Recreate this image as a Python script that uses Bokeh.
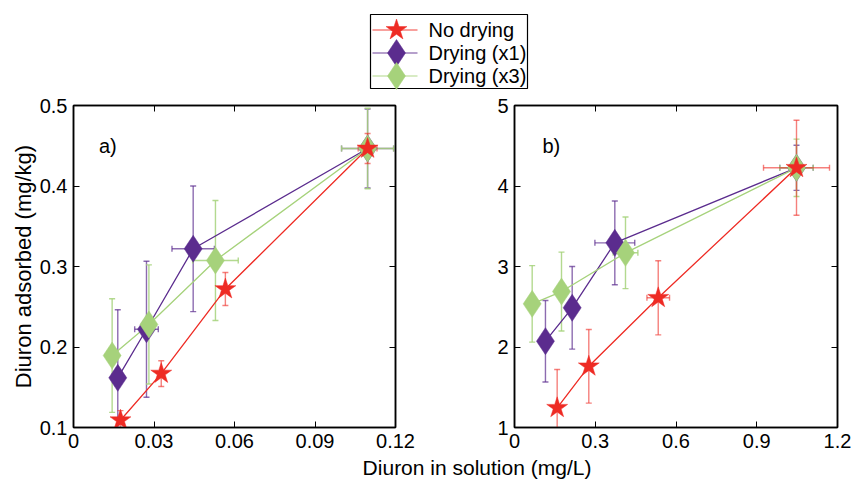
from bokeh.plotting import figure
from bokeh.models import Range1d, FixedTicker, LinearAxis, Whisker, TeeHead, ColumnDataSource, Label
from bokeh.layouts import column, row
from bokeh.embed import file_html
from bokeh.resources import INLINE
from bokeh.core.properties import value

# ---------------- data ----------------
series_names = ["No drying", "Drying (x1)", "Drying (x3)"]
series_colors = ["#ee2b24", "#5b2c8e", "#a6d27b"]
series_markers = ["star", "diamond", "diamond"]

# panel a)  (x: Diuron in solution mg/L, y: Diuron adsorbed mg/kg)
a_nd_x = [0.0175, 0.0327, 0.0566, 0.1096]
a_nd_y = [0.109, 0.167, 0.272, 0.4466]
a_nd_ey = [0.012, 0.016, 0.0205, 0.0186]
a_nd_ex = [0.0, 0.0, 0.0, 0.0035]

a_d1_x = [0.0165, 0.0272, 0.0446, 0.1096]
a_d1_y = [0.1617, 0.222, 0.322, 0.4466]
a_d1_ey = [0.0845, 0.0845, 0.078, 0.049]
a_d1_ex = [0.0, 0.0044, 0.0079, 0.0097]

a_d3_x = [0.0144, 0.0281, 0.0529, 0.1096]
a_d3_y = [0.1894, 0.228, 0.3075, 0.4466]
a_d3_ey = [0.0706, 0.074, 0.0745, 0.05]
a_d3_ex = [0.0, 0.0, 0.0085, 0.0097]

# panel b)
b_nd_x = [0.1585, 0.276, 0.534, 1.0477]
b_nd_y = [1.245, 1.76, 2.611, 4.226]
b_nd_ey = [0.475, 0.457, 0.46, 0.59]
b_nd_ex = [0.0, 0.0, 0.042, 0.1226]

b_d1_x = [0.115, 0.2143, 0.3727, 1.0477]
b_d1_y = [2.072, 2.487, 3.294, 4.226]
b_d1_ey = [0.506, 0.513, 0.52, 0.28]
b_d1_ex = [0.0, 0.0, 0.074, 0.062]

b_d3_x = [0.0657, 0.1746, 0.4124, 1.0477]
b_d3_y = [2.536, 2.689, 3.17, 4.226]
b_d3_ey = [0.475, 0.49, 0.445, 0.356]
b_d3_ex = [0.0, 0.0, 0.046, 0.062]

a_xticks = [0, 0.03, 0.06, 0.09, 0.12]
a_xtick_labels = ["0", "0.03", "0.06", "0.09", "0.12"]
a_yticks = [0.1, 0.2, 0.3, 0.4, 0.5]
a_ytick_labels = ["0.1", "0.2", "0.3", "0.4", "0.5"]
b_xticks = [0, 0.3, 0.6, 0.9, 1.2]
b_xtick_labels = ["0", "0.3", "0.6", "0.9", "1.2"]
b_yticks = [1, 2, 3, 4, 5]
b_ytick_labels = ["1", "2", "3", "4", "5"]

x_label = "Diuron in solution (mg/L)"
y_label = "Diuron adsorbed (mg/kg)"

# ---------------- style ----------------
FONT = "Liberation Sans"
TICK_FS = "20px"
LABEL_FS = "22px"
MARKER_SIZES = {"star": 22, "diamond": 27}
ERR_ALPHA = [0.6, 0.7, 0.85]
TOTAL_W = 851
TOTAL_H = 479
TH = 96            # legend strip height
TOP_B = 9
FRAME_H = 322
BOT_B = 28
BH = TOTAL_H - TH - TOP_B - FRAME_H - BOT_B   # x-label strip height


def style_axis(ax, ticks, labels, show, standoff):
    ax.ticker = FixedTicker(ticks=ticks)
    ax.minor_tick_line_color = None
    ax.major_tick_in = 6
    ax.major_tick_out = 0
    ax.major_tick_line_color = "black"
    ax.major_tick_line_width = 1
    ax.axis_line_color = "black"
    ax.axis_line_width = 1.5
    if show:
        ax.major_label_overrides = {t: l for t, l in zip(ticks, labels)}
        ax.major_label_text_font = FONT
        ax.major_label_text_color = "black"
        ax.major_label_text_font_size = TICK_FS
        ax.major_label_standoff = standoff
    else:
        ax.major_label_text_color = None
        ax.major_label_text_font_size = "1px"
        ax.major_label_standoff = 0


def make_panel(series, xr, yr, xticks, xlabels, yticks, ylabels, tag, tag_xy,
               bl, br, ylab, fw):
    p = figure(frame_width=fw, frame_height=FRAME_H, title=None,
               x_range=Range1d(*xr), y_range=Range1d(*yr),
               output_backend="svg", toolbar_location=None,
               min_border_left=bl, min_border_right=br,
               min_border_top=TOP_B, min_border_bottom=BOT_B)
    p.grid.visible = False
    p.outline_line_color = "black"
    p.outline_line_width = 1.5
    p.background_fill_color = "white"
    p.border_fill_color = "white"
    style_axis(p.xaxis[0], xticks, xlabels, True, 6)
    style_axis(p.yaxis[0], yticks, ylabels, True, 6)
    top = LinearAxis()
    right = LinearAxis()
    style_axis(top, xticks, xlabels, False, 0)
    style_axis(right, yticks, ylabels, False, 0)
    p.add_layout(top, "above")
    p.add_layout(right, "right")
    if ylab:
        p.yaxis[0].axis_label = ylab
        p.yaxis[0].axis_label_text_font = FONT
        p.yaxis[0].axis_label_text_font_size = LABEL_FS
        p.yaxis[0].axis_label_text_font_style = "normal"
        p.yaxis[0].axis_label_text_color = "black"
        p.yaxis[0].axis_label_standoff = 1

    order = [1, 2, 0]
    for i in order:
        xs, ys, eys, exs = series[i]
        p.line(xs, ys, line_color=series_colors[i], line_width=1.3)
    for i in order:
        xs, ys, eys, exs = series[i]
        c = series_colors[i]
        a = ERR_ALPHA[i]
        vsrc = ColumnDataSource(dict(base=xs, upper=[y + e for y, e in zip(ys, eys)],
                                     lower=[y - e for y, e in zip(ys, eys)]))
        p.add_layout(Whisker(source=vsrc, base="base", upper="upper", lower="lower",
                             dimension="height", line_color=c, line_alpha=a, line_width=1.4,
                             upper_head=TeeHead(size=6, line_color=c, line_alpha=a, line_width=1.4),
                             lower_head=TeeHead(size=6, line_color=c, line_alpha=a, line_width=1.4)))
        idx = [k for k, e in enumerate(exs) if e > 0]
        if idx:
            hsrc = ColumnDataSource(dict(base=[ys[k] for k in idx],
                                         upper=[xs[k] + exs[k] for k in idx],
                                         lower=[xs[k] - exs[k] for k in idx]))
            p.add_layout(Whisker(source=hsrc, base="base", upper="upper", lower="lower",
                                 dimension="width", line_color=c, line_alpha=a, line_width=1.4,
                                 upper_head=TeeHead(size=6, line_color=c, line_alpha=a, line_width=1.4),
                                 lower_head=TeeHead(size=6, line_color=c, line_alpha=a, line_width=1.4)))
    for i in order:
        xs, ys, eys, exs = series[i]
        m = series_markers[i]
        p.scatter(xs, ys, marker=m, size=MARKER_SIZES[m], fill_color=series_colors[i],
                  line_color=series_colors[i], line_width=0.5)
    p.add_layout(Label(x=tag_xy[0], y=tag_xy[1], text=tag, text_font=FONT,
                       text_font_size="20px", text_baseline="middle", text_color="black"))
    return p


series_a = [(a_nd_x, a_nd_y, a_nd_ey, a_nd_ex),
            (a_d1_x, a_d1_y, a_d1_ey, a_d1_ex),
            (a_d3_x, a_d3_y, a_d3_ey, a_d3_ex)]
series_b = [(b_nd_x, b_nd_y, b_nd_ey, b_nd_ex),
            (b_d1_x, b_d1_y, b_d1_ey, b_d1_ex),
            (b_d3_x, b_d3_y, b_d3_ey, b_d3_ex)]

pa = make_panel(series_a, (0, 0.12), (0.1, 0.5), a_xticks, a_xtick_labels,
                a_yticks, a_ytick_labels, "a)", (0.0095, 0.4495), 73, 40, y_label, 322)
pb = make_panel(series_b, (0, 1.2), (1, 5), b_xticks, b_xtick_labels,
                b_yticks, b_ytick_labels, "b)", (0.104, 4.495), 79, 14, None, 323)

# ---------------- legend (top strip) ----------------
lg = figure(width=TOTAL_W, height=TH, x_range=Range1d(0, TOTAL_W), y_range=Range1d(0, TH),
            output_backend="svg", toolbar_location=None, min_border=0, title=None,
            x_axis_type=None, y_axis_type=None)
lg.grid.visible = False
lg.outline_line_color = None
lg.quad(left=[370], right=[527], bottom=[8], top=[82], fill_color="white",
        line_color="black", line_width=1.2)
row_y0, row_pitch = 66.5, 23.0
for i, name in enumerate(series_names):
    yy = row_y0 - i * row_pitch
    c = series_colors[i]
    lg.line([372, 417], [yy, yy], line_color=c, line_alpha=0.6, line_width=1.4)
    m = series_markers[i]
    lg.scatter([396], [yy], marker=m, size=MARKER_SIZES[m], fill_color=c, line_color=c,
               line_width=0.5)
    lg.text([428], [yy], text=[name], text_font=value(FONT), text_font_size="20px",
            text_baseline="middle", text_color="black")

# ---------------- x label (bottom strip) ----------------
bt = figure(width=TOTAL_W, height=BH, x_range=Range1d(0, TOTAL_W), y_range=Range1d(0, BH),
            output_backend="svg", toolbar_location=None, min_border=0, title=None,
            x_axis_type=None, y_axis_type=None)
bt.grid.visible = False
bt.outline_line_color = None
bt.add_layout(Label(x=476.5, y=BH / 2, text=x_label, text_font=FONT, text_font_size="21px",
                    text_align="center", text_baseline="middle", text_color="black"))

layout = column(lg, row(pa, pb), bt)
open("out.html", "w").write(file_html(layout, INLINE))
